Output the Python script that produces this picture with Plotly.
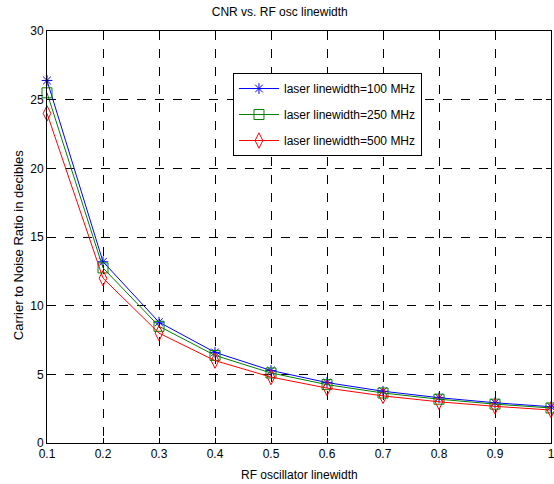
import plotly.graph_objects as go

x_vals = [0.1, 0.2, 0.3, 0.4, 0.5, 0.6, 0.7, 0.8, 0.9, 1.0]
cnr_100 = [26.4, 13.2, 8.8, 6.6, 5.28, 4.4, 3.77, 3.3, 2.93, 2.64]
cnr_250 = [25.5, 12.75, 8.5, 6.38, 5.1, 4.25, 3.64, 3.19, 2.83, 2.55]
cnr_500 = [24.0, 12.0, 8.0, 6.0, 4.8, 4.0, 3.43, 3.0, 2.67, 2.4]
names = ["laser linewidth=100 MHz", "laser linewidth=250 MHz", "laser linewidth=500 MHz"]
x_ticks = [0.1, 0.2, 0.3, 0.4, 0.5, 0.6, 0.7, 0.8, 0.9, 1.0]
x_tick_text = ["0.1", "0.2", "0.3", "0.4", "0.5", "0.6", "0.7", "0.8", "0.9", "1"]
y_ticks = [0, 5, 10, 15, 20, 25, 30]

fig = go.Figure()
series = [
    (cnr_100, names[0], "#0000ff", "asterisk-open", 9),
    (cnr_250, names[1], "#008000", "square-open", 10),
    (cnr_500, names[2], "#ff0000", "diamond-tall-open", 11),
]
for i, (ys, nm, col, sym, sz) in enumerate(series):
    fig.add_trace(go.Scatter(
        x=x_vals, y=ys, name=nm, mode="lines+markers", legendgroup=f"g{i}",
        line=dict(color=col, width=1),
        marker=dict(symbol=sym, size=sz, color=col, line=dict(color=col, width=1)),
        cliponaxis=False,
    ))

font = "Liberation Sans, Arial, sans-serif"
fig.update_layout(
    width=554, height=484,
    margin=dict(l=47, r=3, t=31, b=41, autoexpand=False),
    paper_bgcolor="white", plot_bgcolor="white",
    font=dict(family=font, size=12, color="black"),
    title=dict(text="CNR vs. RF osc linewidth", x=0.505, xanchor="center", y=0.975, yanchor="middle",
               font=dict(size=12, family=font)),
    showlegend=True,
    legend=dict(x=0.369, y=0.898, xanchor="left", yanchor="top",
                bgcolor="white", bordercolor="black", borderwidth=1,
                font=dict(size=12, family=font), tracegroupgap=7, itemwidth=40),
    annotations=[
        dict(text="RF oscillator linewidth", xref="paper", yref="paper", x=0.5, y=0,
             yshift=-32, xanchor="center", yanchor="middle", showarrow=False,
             font=dict(size=12, family=font)),
        dict(text="Carrier to Noise Ratio in decibles", xref="paper", yref="paper",
             x=0, y=0.48, xshift=-29, xanchor="center", yanchor="middle", textangle=-90,
             showarrow=False, font=dict(size=13, family=font)),
    ],
)
fig.update_xaxes(
    range=[0.1, 1.0], tickvals=x_ticks, ticktext=x_tick_text, automargin=False,
    ticklabeloverflow="allow",
    showline=True, linecolor="black", linewidth=1, mirror="ticks",
    ticks="inside", ticklen=5, tickcolor="black",
    showgrid=True, gridcolor="black", griddash="dash", gridwidth=1,
    zeroline=False, tickfont=dict(size=12),
)
fig.update_yaxes(
    range=[0, 30], tickvals=y_ticks, automargin=False,
    ticklabeloverflow="allow",
    showline=True, linecolor="black", linewidth=1, mirror="ticks",
    ticks="inside", ticklen=5, tickcolor="black",
    showgrid=True, gridcolor="black", griddash="dash", gridwidth=1,
    zeroline=False, tickfont=dict(size=12),
)

fig.write_html("out.html", config={"displayModeBar": False},
               post_script="document.body.style.margin='0';document.body.style.overflow='hidden';")
